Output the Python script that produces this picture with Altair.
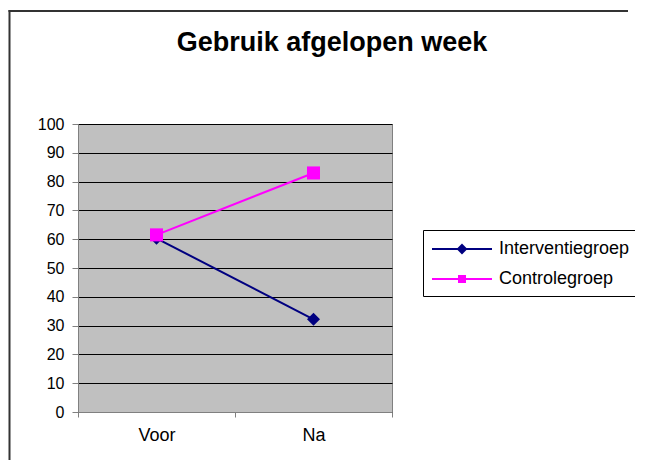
import altair as alt
import pandas as pd

phases = ["Voor", "Na"]
series_names = ["Interventiegroep", "Controlegroep"]
interventie = [60.3, 32.2]
controle = [61.5, 83.0]
colors = ["#000080", "#FF00FF"]

rows = []
for p, v in zip(phases, interventie):
    rows.append({"fase": p, "groep": series_names[0], "waarde": v})
for p, v in zip(phases, controle):
    rows.append({"fase": p, "groep": series_names[1], "waarde": v})
df = pd.DataFrame(rows)

FONT = "Liberation Sans"

x_enc = alt.X(
    "fase:N",
    sort=phases,
    bandPosition=0.5,
    scale=alt.Scale(type="band", paddingInner=0, paddingOuter=0, domain=phases),
    axis=alt.Axis(
        title=None, labelAngle=0, tickBand="extent", domainColor="#808080",
        tickColor="#808080", tickSize=5, labelPadding=9, labelFontSize=18,
        labelFont=FONT, labelColor="#000000", grid=False,
    ),
)
y_enc = alt.Y(
    "waarde:Q",
    scale=alt.Scale(domain=[0, 100], nice=False),
    axis=alt.Axis(
        title=None, values=list(range(0, 101, 10)), grid=True, gridColor="#000000",
        gridWidth=1, domainColor="#808080", tickColor="#808080", tickSize=6,
        labelPadding=8, labelFontSize=16, labelFont=FONT, labelColor="#000000",
    ),
)

frame_data = alt.Data(values=[{"a": 1}])
frame_left = alt.Chart(frame_data).mark_rule(stroke="#333333", strokeWidth=2).encode(
    x=alt.value(-68.5), y=alt.value(-114), y2=alt.value(337)
)
frame_top = alt.Chart(frame_data).mark_rule(stroke="#333333", strokeWidth=2).encode(
    x=alt.value(-69.5), x2=alt.value(550), y=alt.value(-113)
)

marker_shapes = ["diamond", "square"]
series_layers = []
for name, col, shp in zip(series_names, colors, marker_shapes):
    base = alt.Chart(df).transform_filter(alt.datum.groep == name)
    series_layers.append(base.mark_line(strokeWidth=2, color=col).encode(x=x_enc, y=y_enc))
    series_layers.append(
        base.mark_point(filled=True, opacity=1, color=col, shape=shp, size=170).encode(x=x_enc, y=y_enc)
    )

leg_shapes = [
    "M-1,0H5M2,-0.4L2.4,0L2,0.4L1.6,0ZM2,-0.25L2.25,0L2,0.25L1.75,0ZM2,-0.1L2.1,0L2,0.1L1.9,0Z",
    "M-1,0H5M1.7,-0.3H2.3V0.3H1.7ZM1.85,-0.15H2.15V0.15H1.85ZM1.98,-0.02H2.02V0.02H1.98Z",
]
legend_props = dict(
    title=None, orient="none", legendX=345, legendY=106,
    strokeColor="#000000", fillColor="#FFFFFF", padding=8,
    labelFont=FONT, labelFontSize=18, labelColor="#000000",
    labelOffset=46, rowPadding=10, symbolSize=400, symbolStrokeWidth=2,
    symbolOpacity=1,
)
legend_layer = alt.Chart(df).mark_point(filled=False, strokeWidth=2, opacity=0).encode(
    x=x_enc, y=y_enc,
    color=alt.Color("groep:N", scale=alt.Scale(domain=series_names, range=colors),
                    legend=alt.Legend(**legend_props)),
    shape=alt.Shape("groep:N", scale=alt.Scale(domain=series_names, range=leg_shapes),
                    legend=alt.Legend(**legend_props)),
)

chart = alt.layer(frame_left, frame_top, *series_layers, legend_layer).properties(
    width=314, height=288,
    autosize=alt.AutoSizeParams(type="none"),
    padding={"left": 70, "top": 116, "right": 243, "bottom": 48},
    title=alt.TitleParams(
        "Gebruik afgelopen week", font=FONT, fontSize=27, fontWeight="bold",
        color="#000000", anchor="middle", dx=97, offset=-48,
    ),
    background="#FFFFFF",
).configure_view(
    fill="#C0C0C0", stroke="#808080", strokeWidth=1
)

chart.save("out.html", embed_options={"renderer": "svg", "actions": False})
